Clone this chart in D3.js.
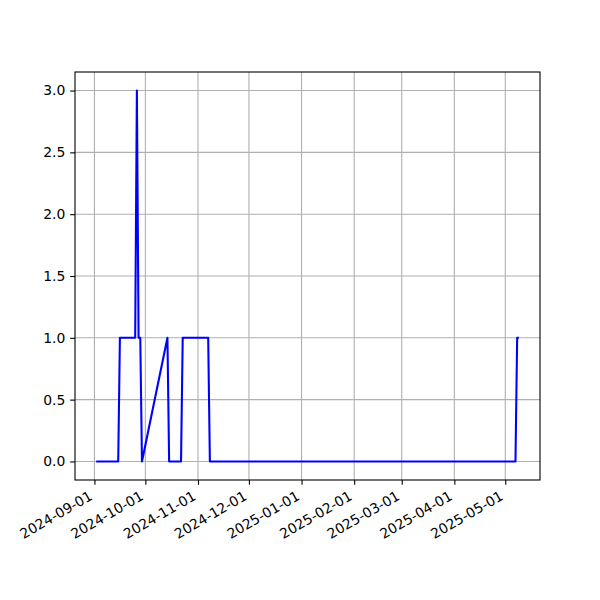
<!DOCTYPE html>
<html>
<head>
<meta charset="utf-8">
<script src="https://cdn.jsdelivr.net/npm/d3@7"></script>
<style>
  html, body { margin: 0; padding: 0; background: #ffffff; }
  svg { display: block; }
  text { font-family: "DejaVu Sans", sans-serif; }
</style>
</head>
<body>
<svg id="chart" width="600" height="600"></svg>
<script>
const dates = ["2024-09-02","2024-09-15","2024-09-16","2024-09-25","2024-09-26","2024-09-27","2024-09-28","2024-09-29","2024-10-14","2024-10-15","2024-10-22","2024-10-23","2024-11-07","2024-11-08","2025-05-07","2025-05-08","2025-05-09"];
const values = [0,0,1,1,3,1,1,0,1,0,0,1,1,0,0,1,1];
const xTickLabels = ["2024-09-01","2024-10-01","2024-11-01","2024-12-01","2025-01-01","2025-02-01","2025-03-01","2025-04-01","2025-05-01"];
const yTickValues = [0, 0.5, 1, 1.5, 2, 2.5, 3];

const parse = d3.utcParse("%Y-%m-%d");
const data = dates.map((d, i) => ({ date: parse(d), value: values[i] }));

const margin = { left: 75, right: 540, top: 72, bottom: 480 };
const svg = d3.select("#chart");

const ext = d3.extent(data, d => +d.date);
const pad = (ext[1] - ext[0]) * 0.05;
const x = d3.scaleUtc().domain([new Date(ext[0] - pad), new Date(ext[1] + pad)]).range([margin.left, margin.right]);
const yExt = d3.extent(values);
const yPad = (yExt[1] - yExt[0]) * 0.05;
const y = d3.scaleLinear().domain([yExt[0] - yPad, yExt[1] + yPad]).range([margin.bottom, margin.top]);

const xTicks = xTickLabels.map(parse);
const fontPx = 13.9;

// grid
const grid = svg.append("g");
grid.selectAll("line.xg").data(xTicks).enter().append("line")
  .attr("x1", d => x(d)).attr("x2", d => x(d))
  .attr("y1", margin.top).attr("y2", margin.bottom)
  .attr("stroke", "#b0b0b0").attr("stroke-width", 1.1);
grid.selectAll("line.yg").data(yTickValues).enter().append("line")
  .attr("x1", margin.left).attr("x2", margin.right)
  .attr("y1", d => y(d)).attr("y2", d => y(d))
  .attr("stroke", "#b0b0b0").attr("stroke-width", 1.1);

// line
const line = d3.line().x(d => x(d.date)).y(d => y(d.value));
svg.append("path").datum(data)
  .attr("d", line)
  .attr("fill", "none")
  .attr("stroke", "#0000ff")
  .attr("stroke-width", 2.08)
  .attr("stroke-linejoin", "round");

// x axis
const xAxis = d3.axisBottom(x).tickValues(xTicks).tickSize(4.86).tickPadding(4.86)
  .tickFormat(d3.utcFormat("%Y-%m-%d"));
const gx = svg.append("g").attr("transform", `translate(0,${margin.bottom})`).call(xAxis);
gx.select(".domain").remove();
gx.selectAll(".tick line").attr("stroke", "#000").attr("stroke-width", 1.1);
gx.selectAll(".tick text")
  .attr("font-size", fontPx)
  .attr("fill", "#000")
  .attr("text-anchor", "end")
  .attr("dy", null)
  .attr("y", null)
  .attr("transform", "translate(-1.5,18.8) rotate(-30)");

// y axis
const yAxis = d3.axisLeft(y).tickValues(yTickValues).tickSize(4.86).tickPadding(4.86)
  .tickFormat(d3.format(".1f"));
const gy = svg.append("g").attr("transform", `translate(${margin.left},0)`).call(yAxis);
gy.select(".domain").remove();
gy.selectAll(".tick line").attr("stroke", "#000").attr("stroke-width", 1.1);
gy.selectAll(".tick text").attr("font-size", fontPx).attr("fill", "#000");

// spines
svg.append("rect")
  .attr("x", margin.left).attr("y", margin.top)
  .attr("width", margin.right - margin.left).attr("height", margin.bottom - margin.top)
  .attr("fill", "none").attr("stroke", "#000").attr("stroke-width", 1.1);
</script>
</body>
</html>
